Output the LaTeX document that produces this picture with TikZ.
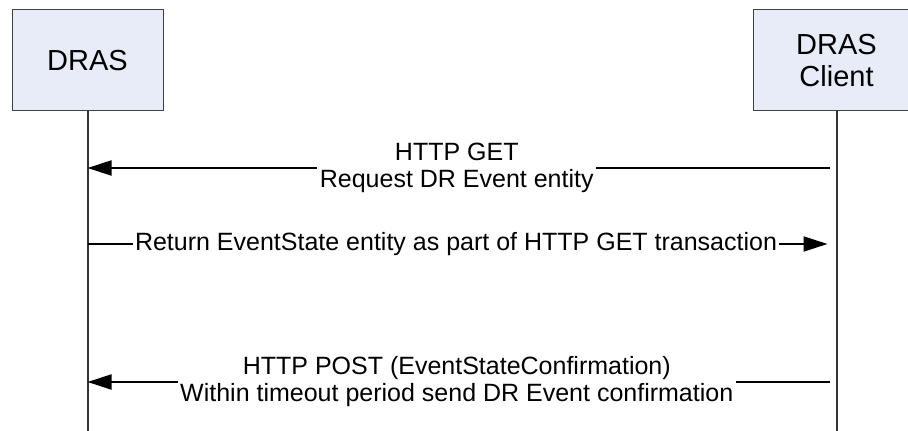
\documentclass[tikz,border=0pt]{standalone}
\usepackage{fontspec}
\setmainfont{Liberation Sans}
\usepackage{xcolor}
\usetikzlibrary{arrows.meta, positioning}

\definecolor{actorfill}{RGB}{232,236,248}

\begin{document}
\begin{tikzpicture}[
    x=0.5pt, y=-0.5pt,
    actor/.style={rectangle, draw=black!75, fill=actorfill, line width=0.5pt,
                  minimum height=50.5pt, outer sep=0pt, inner sep=0pt,
                  align=center, font=\fontsize{14.5}{16}\selectfont},
    life/.style={draw=black!80, line width=1pt},
    msg/.style={line width=1pt, -{Triangle[length=12pt, width=7.5pt]}},
    lbl/.style={fill=white, inner xsep=1.25pt, inner ysep=0.5pt, align=center,
                font=\fontsize{12.5}{13.5}\selectfont},
]
\clip (0,0) rectangle (908,431);

%% Actors
\node[actor, minimum width=75.5pt] (dras) at (87.5,60.5) {DRAS};
\node[actor, minimum width=83.5pt, right=295pt of dras] (client) {DRAS\\Client};

%% Lifelines
\coordinate (dend) at (dras.south |- 0,431);
\coordinate (cend) at (client.south |- 0,431);
\draw[life] (dras.south)   -- (dend);
\draw[life] (client.south) -- (cend);

%% Message rows
\coordinate (d1) at (dras |- 0,168);
\coordinate (c1) at (client |- 0,168);
\coordinate (d2) at (dras |- 0,244);
\coordinate (c2) at (client |- 0,244);
\coordinate (d3) at (dras |- 0,382);
\coordinate (c3) at (client |- 0,382);

%% Messages
\draw[msg, shorten <=3.5pt] (c1) -- node[lbl, pos=0.507] (m1)
    {HTTP GET\\Request DR Event entity} (d1);
\draw[msg, shorten >=4.5pt] (d2) -- node[lbl, pos=0.492] (m2)
    {Return EventState entity as part of HTTP GET transaction} (c2);
\draw[msg, shorten <=3.5pt] (c3) -- node[lbl, pos=0.507] (m3)
    {HTTP POST (EventStateConfirmation)\\Within timeout period send DR Event confirmation} (d3);

\end{tikzpicture}
\end{document}
